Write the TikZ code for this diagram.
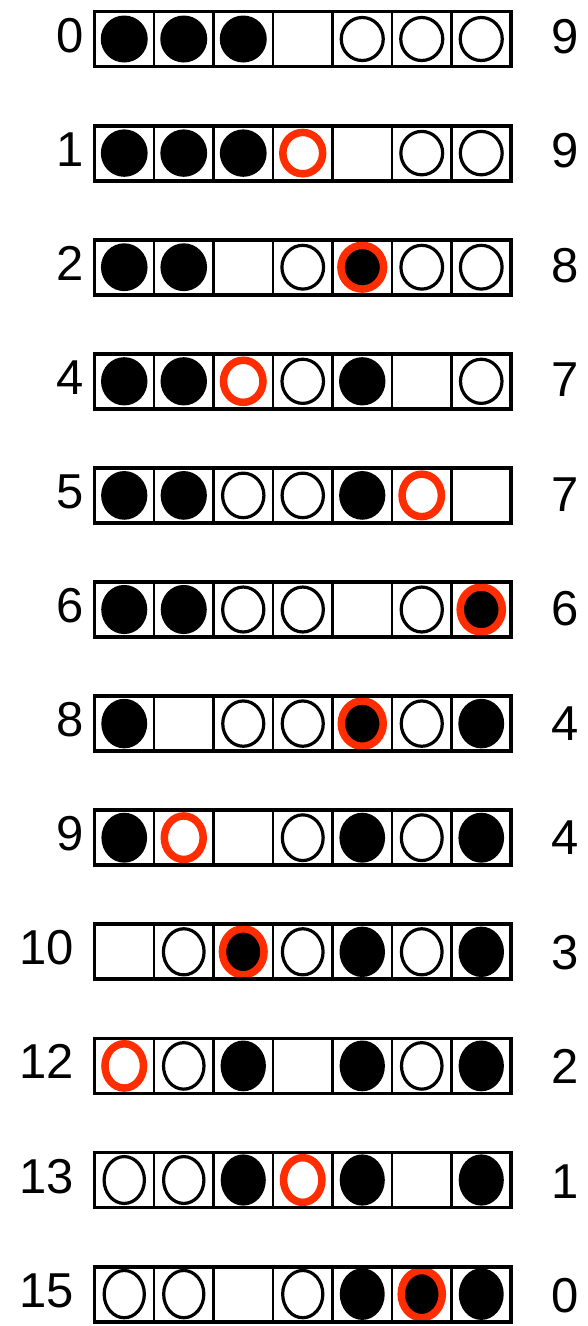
\documentclass[tikz,border=0pt]{standalone}
\usepackage{fontspec}
\setmainfont{Liberation Sans}
\definecolor{ringred}{RGB}{255,45,0}
\begin{document}
\begin{tikzpicture}[x=1pt,y=-1pt,
  cB/.style={fill=black,draw=none,x radius=23.5,y radius=23.5},
  cW/.style={draw=black,line width=3.2pt,fill=white,x radius=21,y radius=21.5},
  cR/.style={draw=ringred,line width=7.5pt,x radius=20,y radius=20.5},
  cX/.style={draw=ringred,line width=7.5pt,fill=black,x radius=21.5,y radius=21.5},
  cE/.style={draw=none,x radius=1,y radius=1},
  boxframe/.style={draw=black,line width=3.8pt},
  divider/.style={draw=black,line width=2.8pt},
  lbl/.style={inner sep=0pt,font=\fontsize{49}{49}\selectfont}]
\useasboundingbox (0,0) rectangle (588,1326);
\foreach \i/\l/\lx/\r/\cells in {
  0/0/84/9/{B,B,B,E,W,W,W},
  1/1/84/9/{B,B,B,R,E,W,W},
  2/2/84/8/{B,B,E,W,X,W,W},
  3/4/84/7/{B,B,R,W,B,E,W},
  4/5/84/7/{B,B,W,W,B,R,E},
  5/6/84/6/{B,B,W,W,E,W,X},
  6/8/84/4/{B,E,W,W,X,W,B},
  7/9/84/4/{B,R,E,W,B,W,B},
  8/10/74/3/{E,W,X,W,B,W,B},
  9/12/74/2/{R,W,B,E,B,W,B},
  10/13/74/1/{W,W,B,R,B,E,B},
  11/15/74/0/{W,W,E,W,B,X,B}}{
  \pgfmathsetmacro\cy{39+114.1*\i}
  \pgfmathsetmacro\sy{1+0.009*\i}
  \pgfmathsetmacro\sx{1-0.004*\i}
  \foreach \c [count=\j] in \cells {
    \pgfmathsetmacro\cx{94.5+59.5*(\j-0.5)}
    \path[shift={(\cx,\cy)},xscale=\sx,yscale=\sy,c\c] (0,0) ellipse [];
  }
  \foreach \k in {1,...,6} {
    \pgfmathsetmacro\dx{94.5+59.5*\k}
    \draw[divider] (\dx,\cy-27.5) -- (\dx,\cy+27.5);
  }
  \draw[boxframe] (94.5,\cy-27.5) rectangle (511,\cy+27.5);
  \pgfmathsetmacro\lb{\cy+13}
  \pgfmathsetmacro\rb{\cy+14+0.4*\i}
  \node[lbl,anchor=base east] (L\i) at (\lx,\lb) {\l};
  \node[lbl,anchor=base west] (R\i) at (551,\rb) {\r};
}
\end{tikzpicture}
\end{document}
